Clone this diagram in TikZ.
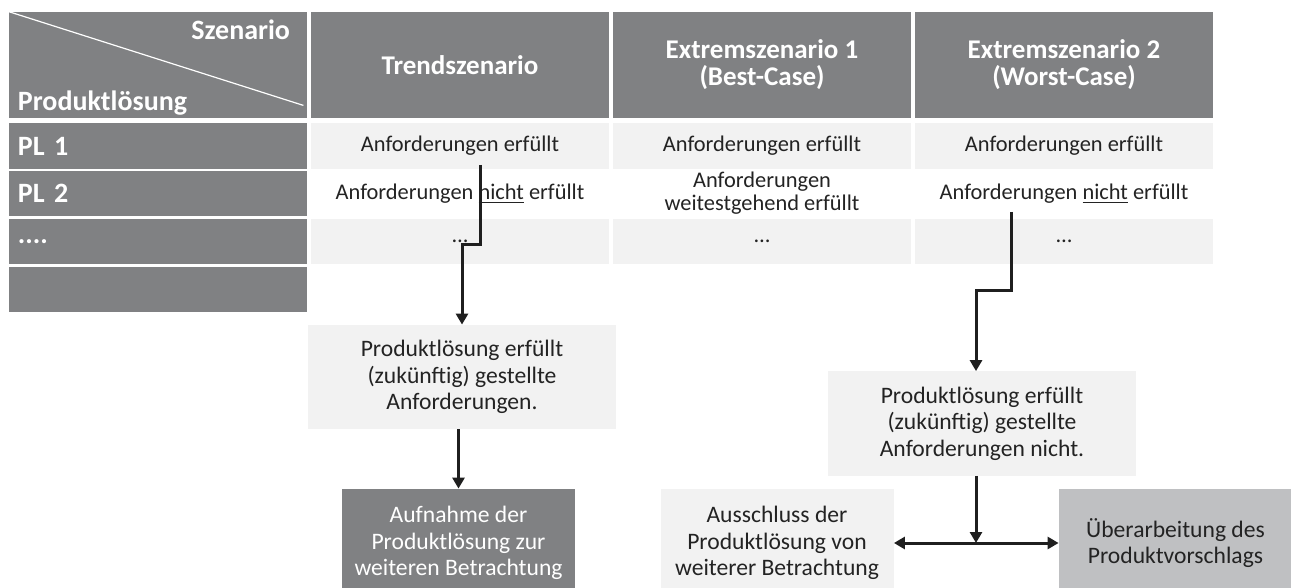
\documentclass[tikz,border=0pt]{standalone}
\usepackage{fontspec}
\setmainfont{Carlito}
\usepackage{xcolor}
\usepackage{tikz}
\usetikzlibrary{arrows.meta}

\definecolor{hdgray}{RGB}{128,129,131}
\definecolor{cellgray}{RGB}{242,242,242}
\definecolor{midgray}{RGB}{191,192,194}
\definecolor{txtgray}{RGB}{35,35,35}

\begin{document}
\begin{tikzpicture}[
    x=0.5pt, y=-0.5pt,
    >={Triangle[length=5.5pt,width=6pt]},
    head/.style={fill=hdgray, text=white, minimum width=149pt, minimum height=53pt, inner sep=0pt, align=center, font=\fontsize{13.5}{13.5}\selectfont\bfseries},
    plrow/.style={fill=hdgray, text=white, minimum width=149pt, minimum height=22.75pt, inner xsep=4.5pt, inner ysep=0pt, text width=140pt, align=left, font=\fontsize{14}{14}\selectfont\bfseries},
    cell/.style={minimum width=149pt, minimum height=22.75pt, inner sep=0pt, align=center, text=txtgray, font=\fontsize{11.2}{11.5}\selectfont},
    box/.style={fill=cellgray, minimum width=154pt, minimum height=52pt, inner sep=0pt, align=center, text=txtgray, font=\fontsize{11.8}{13.3}\selectfont},
    result/.style={minimum width=116.5pt, minimum height=54pt, inner sep=0pt, align=center, font=\fontsize{11.8}{13.3}\selectfont},
    arrow/.style={->, line width=1.5pt, draw=black!88},
    twoway/.style={<->, line width=1.5pt, draw=black!88}
  ]
    \useasboundingbox (0,0) rectangle (1291,588);
    \clip (0,0) rectangle (1291,588);

    % Header
    \node[head] (corner) at (158,65) {};
    \draw[white, line width=0.6pt] (corner.north west) -- ([shift={(-2pt,6.5pt)}]corner.south east);
    \node[anchor=north east, inner sep=0pt, text=white, font=\fontsize{14}{14}\selectfont\bfseries] (szen) at ([shift={(-8.5pt,-4pt)}]corner.north east) {Szenario};
    \node[anchor=base west, inner sep=0pt, text=white, font=\fontsize{14}{14}\selectfont\bfseries] (prod) at ([shift={(4.5pt,4pt)}]corner.south west) {Produktlösung};
    \node[head] (trend) at (460,65) {Trendszenario};
    \node[head] (best) at (762,65) {Extremszenario 1\\(Best-Case)};
    \node[head] (worst) at (1064,65) {Extremszenario 2\\(Worst-Case)};

    % Rows
    \node[plrow] (pl1) at (158,146) {PL 1};
    \node[plrow] (pl2) at (158,193.5) {PL 2};
    \node[plrow] (pl3) at (158,241.5) {....};
    \node[plrow] (pl4) at (158,289.5) {};

    \node[cell, fill=cellgray] (t1) at (460,146) {Anforderungen erfüllt};
    \node[cell, fill=cellgray] (b1) at (762,146) {Anforderungen erfüllt};
    \node[cell, fill=cellgray] (w1) at (1064,146) {Anforderungen erfüllt};
    \node[cell] (t2) at (460,193.5) {Anforderungen \underline{nicht} erfüllt};
    \node[cell] (b2) at (762,193.5) {Anforderungen\\weitestgehend erfüllt};
    \node[cell] (w2) at (1064,193.5) {Anforderungen \underline{nicht} erfüllt};
    \node[cell, fill=cellgray] (t3) at (460,241.5) {\ldots};
    \node[cell, fill=cellgray] (b3) at (762,241.5) {\ldots};
    \node[cell, fill=cellgray] (w3) at (1064,241.5) {\ldots};

    % Flow
    \node[box] (fulfil) at (462,377) {Produktlösung erfüllt\\(zukünftig) gestellte\\Anforderungen.};
    \node[box] (notfulfil) at (982,423.5) {Produktlösung erfüllt\\(zukünftig) gestellte\\Anforderungen nicht.};
    \node[result, fill=hdgray, text=white] (accept) at (458.5,543) {Aufnahme der\\Produktlösung zur\\weiteren Betrachtung};
    \node[result, fill=cellgray, text=txtgray] (exclude) at (777,543) {Ausschluss der\\Produktlösung von\\weiterer Betrachtung};
    \node[result, fill=midgray, text=txtgray] (revise) at (1175.5,543) {Überarbeitung des\\Produktvorschlags};

    % Arrows
    \coordinate (s1) at (480,165);
    \coordinate (s2) at (1011,212);
    \draw[arrow] (s1) -- ++(0,80) -| (fulfil.north);
    \draw[arrow] (accept.north |- fulfil.south) -- (accept.north);
    \draw[arrow] (s2) -- ++(0,79) -| ([xshift=-3pt]notfulfil.north);
    \draw[arrow] ([xshift=-3pt]notfulfil.south) -- ([xshift=-3pt]notfulfil.south |- exclude.east);
    \draw[twoway] (exclude.east) -- (revise.west);
  \end{tikzpicture}
\end{document}
